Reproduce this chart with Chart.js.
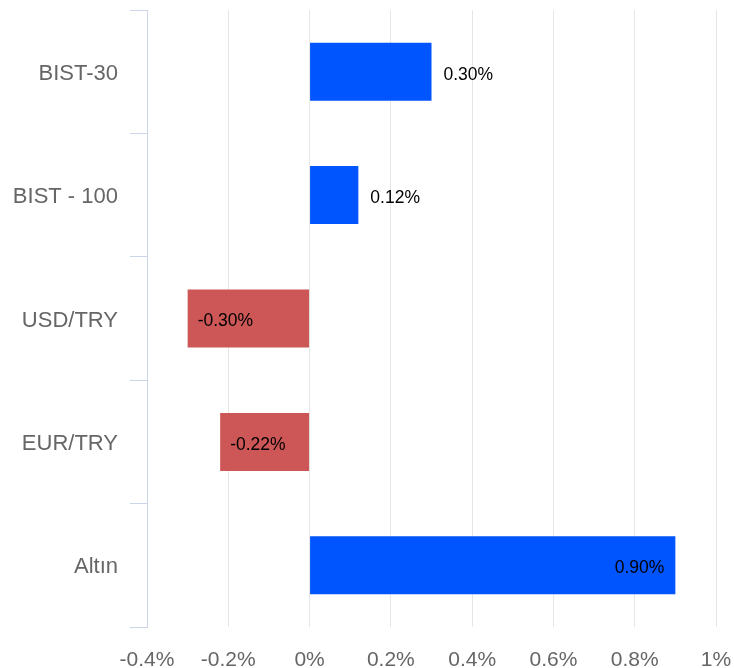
<!DOCTYPE html>
<html><head><meta charset="utf-8">
<script src="https://cdn.jsdelivr.net/npm/chart.js@4/dist/chart.umd.min.js"></script>
<style>html,body{margin:0;padding:0;background:#fff}#wrap{width:734px;height:668px}</style>
</head><body><div id="wrap"><canvas id="c" width="734" height="668"></canvas></div>
<script>
const categories = ["BIST-30", "BIST - 100", "USD/TRY", "EUR/TRY", "Altın"];
const changes = [0.30, 0.12, -0.30, -0.22, 0.90];
const xTicks = [-0.4, -0.2, 0, 0.2, 0.4, 0.6, 0.8, 1];
const positiveColor = '#0055ff';
const negativeColor = '#cd5757';
const FONT = '"Liberation Sans", Arial, sans-serif';

const valueLabels = {
  id: 'valueLabels',
  afterDatasetsDraw(chart) {
    const ctx = chart.ctx;
    const meta = chart.getDatasetMeta(0);
    const area = chart.chartArea;
    ctx.save();
    ctx.font = '17.5px ' + FONT;
    ctx.fillStyle = '#000';
    ctx.textBaseline = 'middle';
    meta.data.forEach((el, i) => {
      const v = changes[i];
      const text = v.toFixed(2) + '%';
      const w = ctx.measureText(text).width;
      if (v < 0) {
        ctx.textAlign = 'left';
        ctx.fillText(text, el.x + 10, el.y + 3);
      } else if (el.x + 12 + w <= area.right) {
        ctx.textAlign = 'left';
        ctx.fillText(text, el.x + 12, el.y + 3);
      } else {
        ctx.textAlign = 'right';
        ctx.fillText(text, el.x - 11, el.y + 3);
      }
    });
    ctx.restore();
  }
};

new Chart(document.getElementById('c'), {
  type: 'bar',
  data: {
    labels: categories,
    datasets: [{
      data: changes,
      backgroundColor: changes.map(v => v < 0 ? negativeColor : positiveColor),
      borderWidth: 0,
      barPercentage: 0.47,
      categoryPercentage: 1.0
    }]
  },
  options: {
    indexAxis: 'y',
    responsive: false,
    animation: false,
    devicePixelRatio: 1,
    layout: { padding: { left: 0, right: 18, top: 10, bottom: 0 } },
    plugins: { legend: { display: false }, tooltip: { enabled: false } },
    scales: {
      x: {
        min: -0.4, max: 1,
        afterBuildTicks: s => { s.ticks = xTicks.map(v => ({ value: v })); },
        afterFit: s => { s.height = 41; s.paddingLeft = 0; s.paddingRight = 0; },
        grid: { color: '#e6e6e6', lineWidth: 1, drawTicks: false },
        border: { display: false },
        ticks: {
          color: '#666', padding: 21, maxRotation: 0,
          font: { family: FONT, size: 21 },
          callback: v => (Math.round(v * 10) / 10) + '%'
        }
      },
      y: {
        afterFit: s => { s.width = 147; s.paddingTop = 0; s.paddingBottom = 0; },
        grid: { drawOnChartArea: false, drawTicks: true, tickLength: 17, color: '#ccd6eb', offset: true },
        border: { display: true, color: '#ccd6eb', width: 1 },
        ticks: { color: '#666', padding: 12, labelOffset: 2, font: { family: FONT, size: 22 } }
      }
    }
  },
  plugins: [valueLabels]
});
</script></body></html>
